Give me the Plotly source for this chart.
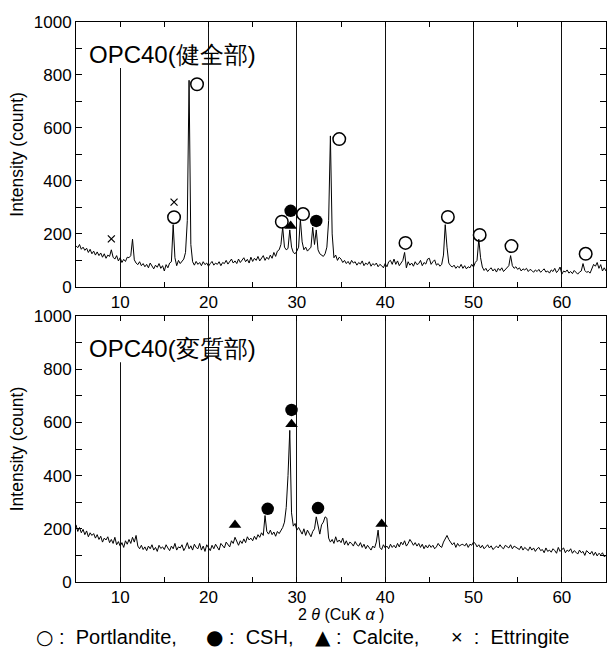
import numpy as np
import plotly.graph_objects as go

# 2theta sampling (degrees)
two_theta = [round(5.0 + 0.2 * i, 1) for i in range(301)]

# OPC40 sound part intensities
y_sound = [
    155,148,160,142,150,138,146,130,142,125,
    135,120,132,118,128,112,125,108,120,115,
    140,112,105,118,98,110,92,104,96,112,
    110,118,180,102,90,84,95,80,88,76,
    85,72,90,78,68,82,74,88,70,80,
    60,84,72,90,95,235,110,80,100,88,
    95,105,130,250,780,160,95,82,96,85,
    92,80,95,84,90,78,88,96,82,90,
    85,95,80,92,88,100,86,94,105,90,
    98,88,105,92,100,110,95,104,90,112,
    96,108,100,115,98,106,118,100,112,104,
    120,108,130,115,135,140,160,225,150,140,
    145,215,150,130,125,135,150,255,170,140,
    150,135,145,150,225,160,215,140,125,120,
    115,125,150,250,570,200,110,120,100,112,
    105,92,100,88,96,85,100,90,95,82,
    92,86,98,80,90,84,95,78,88,82,
    90,76,85,80,72,88,76,95,100,85,
    105,85,98,80,92,100,130,72,95,82,
    90,78,95,84,88,100,80,92,86,105,
    108,85,95,102,82,88,78,85,120,235,
    150,90,80,75,82,70,78,72,85,70,
    80,68,76,72,85,75,92,100,180,110,
    75,62,70,58,66,72,60,68,56,70,
    62,72,58,66,70,80,118,80,70,76,
    66,72,60,68,64,70,58,66,62,55,
    64,58,66,55,62,68,56,60,52,64,
    58,70,54,62,75,48,60,56,64,52,
    58,50,62,55,48,56,60,88,62,55,
    58,52,70,85,78,92,70,84,60,72,
    60,
]

# OPC40 altered part intensities
y_altered = [
    215,190,205,185,198,178,192,170,185,175,
    182,165,178,160,172,150,165,158,170,148,
    160,145,168,140,152,135,148,130,155,142,
    160,145,168,150,175,135,125,138,122,132,
    118,135,125,140,120,130,115,138,126,132,
    122,140,128,118,135,125,145,120,132,128,
    140,118,130,148,125,136,120,142,130,125,
    145,120,135,115,140,128,118,138,125,142,
    130,120,145,135,128,150,140,132,155,145,
    168,150,138,155,145,162,148,170,158,165,
    155,172,160,178,168,185,175,250,190,180,
    195,178,188,172,190,182,195,205,225,280,
    400,570,260,210,220,195,205,190,180,200,
    175,195,185,170,190,200,245,205,180,215,
    225,245,240,165,150,160,145,170,150,158,
    148,165,140,155,138,150,145,135,152,140,
    135,148,130,142,125,138,128,120,135,128,
    150,195,130,122,140,128,135,125,142,130,
    138,128,145,132,150,140,155,135,145,160,
    150,138,148,135,145,130,142,125,138,128,
    140,130,138,125,132,145,135,130,150,165,
    175,160,150,140,148,130,145,135,140,142,
    135,145,130,142,138,150,145,132,140,128,
    138,125,132,140,128,136,122,130,135,128,
    140,130,125,138,132,128,140,125,135,130,
    128,122,135,120,130,125,118,132,120,128,
    115,125,130,118,122,110,128,115,120,112,
    125,118,108,130,115,122,128,110,120,115,
    125,108,118,112,105,120,110,115,100,118,
    110,105,115,100,112,98,108,102,110,95,
    100,
]

# Phase markers (position, height) - sound part
sound_portlandite_x = [16.1, 18.7, 28.3, 30.7, 34.8, 42.3, 47.1, 50.7, 54.3, 62.7]
sound_portlandite_y = [263, 765, 246, 275, 558, 166, 264, 196, 154, 125]
sound_csh_x = [29.3, 32.2]
sound_csh_y = [287, 249]
sound_calcite_x = [29.3]
sound_calcite_y = [230]
sound_ettringite_x = [9.0, 16.1]
sound_ettringite_y = [181, 320]

# Phase markers - altered part
alt_csh_x = [26.7, 29.4, 32.4]
alt_csh_y = [275, 647, 278]
alt_calcite_x = [23.0, 29.4, 39.6]
alt_calcite_y = [214, 593, 218]

panel_titles = ["OPC40(健全部)", "OPC40(変質部)"]
x_ticks = [10, 20, 30, 40, 50, 60]
y_ticks = [0, 200, 400, 600, 800, 1000]

key_symbols = ["○", "●", "▲", "×"]
key_names = ["Portlandite,", "CSH,", "Calcite,", "Ettringite"]
key_x = [-0.080, 0.241, 0.447, 0.703]   # paper positions of the key items

FONT = "Liberation Sans, Arial, sans-serif"
SYM = "font-family:'DejaVu Sans';font-size:20px"

fig = go.Figure()

def add_markers(x, y, symbol, size, xa, ya, color="black", lw=1.5):
    fig.add_trace(go.Scatter(
        x=x, y=y, mode="markers", xaxis=xa, yaxis=ya, showlegend=False,
        hoverinfo="skip",
        marker=dict(symbol=symbol, size=size, color=color,
                    line=dict(color="black", width=lw)),
    ))

# top panel
fig.add_trace(go.Scatter(x=two_theta, y=y_sound, mode="lines", xaxis="x", yaxis="y",
                         line=dict(color="black", width=1), showlegend=False))
add_markers(sound_portlandite_x, sound_portlandite_y, "circle-open", 12.5, "x", "y")
add_markers(sound_csh_x, sound_csh_y, "circle", 12.5, "x", "y", lw=0)
add_markers(sound_calcite_x, sound_calcite_y, "triangle-up", 11, "x", "y", lw=0)
add_markers(sound_ettringite_x, sound_ettringite_y, "x-thin", 7, "x", "y", lw=1.2)

# bottom panel
fig.add_trace(go.Scatter(x=two_theta, y=y_altered, mode="lines", xaxis="x2", yaxis="y2",
                         line=dict(color="black", width=1), showlegend=False))
add_markers(alt_csh_x, alt_csh_y, "circle", 12.5, "x2", "y2", lw=0)
add_markers(alt_calcite_x, alt_calcite_y, "triangle-up", 11, "x2", "y2", lw=0)

xaxis_common = dict(
    range=[5, 65], tickvals=x_ticks, ticks="inside", ticklen=5, tickcolor="black",
    showline=True, linecolor="black", linewidth=1, mirror="ticks",
    showgrid=True, gridcolor="#111111", gridwidth=1, zeroline=False,
    minor=dict(dtick=5, ticks="inside", ticklen=5, tickcolor="black", showgrid=False),
    tickfont=dict(family=FONT, size=17, color="black"),
)
yaxis_common = dict(
    range=[0, 1000], tickvals=y_ticks, ticks="inside", ticklen=6, tickcolor="black",
    showline=True, linecolor="black", linewidth=1, mirror="ticks",
    showgrid=False, zeroline=False,
    minor=dict(dtick=100, ticks="inside", ticklen=6, tickcolor="black", showgrid=False),
    tickfont=dict(family=FONT, size=17, color="black"),
    title=dict(text="Intensity (count)", font=dict(family=FONT, size=17.5, color="black"), standoff=5),
    automargin=False,
)

top_dom = [0.527, 1.0]
bot_dom = [0.0, 0.475]

fig.update_layout(
    width=607, height=649,
    margin=dict(l=76, r=1, t=22, b=67),
    paper_bgcolor="white", plot_bgcolor="white",
    xaxis=dict(**xaxis_common, anchor="y", domain=[0, 1]),
    yaxis=dict(**yaxis_common, anchor="x", domain=top_dom),
    xaxis2=dict(**xaxis_common, anchor="y2", domain=[0, 1]),
    yaxis2=dict(**yaxis_common, anchor="x2", domain=bot_dom),
    showlegend=False,
)

# white patch hiding the grid line behind the panel titles
for xr, yr in (("x", "y"), ("x2", "y2")):
    fig.add_shape(type="rect", xref=xr, yref=yr, x0=6, x1=15, y0=826, y1=1000,
                  fillcolor="white", line=dict(width=0), layer="between")

for i, (xr, yr) in enumerate((("x", "y"), ("x2", "y2"))):
    fig.add_annotation(text=panel_titles[i], xref=xr, yref=yr, x=6.2, y=878,
                       xanchor="left", yanchor="middle", showarrow=False,
                       font=dict(family=FONT, size=24, color="black"))

fig.add_annotation(text="2 <i>θ</i> (CuK <i>α</i> )", xref="paper", yref="paper",
                   x=0.5, y=-0.058, xanchor="center", yanchor="middle", showarrow=False,
                   font=dict(family=FONT, size=16, color="black"))

for sym, name, kx in zip(key_symbols, key_names, key_x):
    if sym == "×":
        txt = f"{sym}  :  {name}"
    else:
        txt = f"<span style=\"{SYM}\">{sym}</span> :  {name}"
    fig.add_annotation(text=txt, xref="paper", yref="paper", x=kx, y=-0.098,
                       xanchor="left", yanchor="middle", showarrow=False,
                       font=dict(family=FONT, size=20, color="black"))

fig.write_html("out.html", post_script="document.body.style.margin='0';",
               config={"displayModeBar": False})
